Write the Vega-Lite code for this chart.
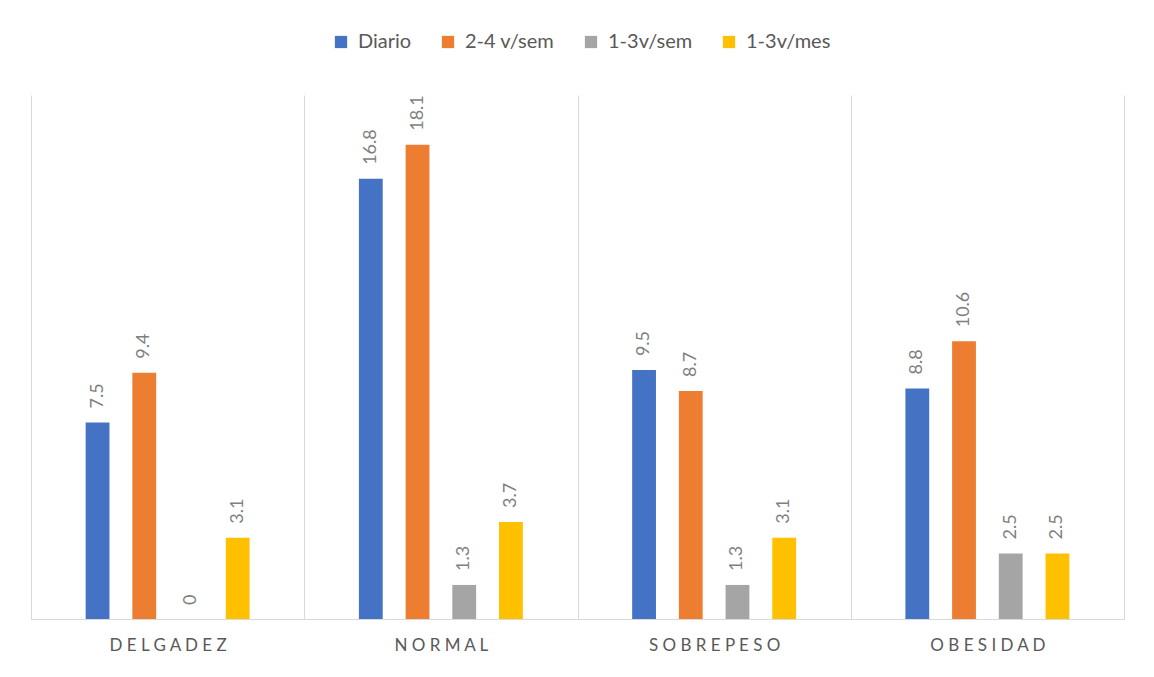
{
  "$schema": "https://vega.github.io/schema/vega-lite/v6.json",
  "width": 1093,
  "height": 524,
  "autosize": "none",
  "padding": {"left": 31, "top": 95, "right": 30, "bottom": 58},
  "background": "white",
  "config": {"view": {"stroke": null}},
  "data": {
    "values": [
      {"cat": "DELGADEZ", "serie": "Diario", "v": 7.5},
      {"cat": "DELGADEZ", "serie": "2-4 v/sem", "v": 9.4},
      {"cat": "DELGADEZ", "serie": "1-3v/sem", "v": 0},
      {"cat": "DELGADEZ", "serie": "1-3v/mes", "v": 3.1},
      {"cat": "NORMAL", "serie": "Diario", "v": 16.8},
      {"cat": "NORMAL", "serie": "2-4 v/sem", "v": 18.1},
      {"cat": "NORMAL", "serie": "1-3v/sem", "v": 1.3},
      {"cat": "NORMAL", "serie": "1-3v/mes", "v": 3.7},
      {"cat": "SOBREPESO", "serie": "Diario", "v": 9.5},
      {"cat": "SOBREPESO", "serie": "2-4 v/sem", "v": 8.7},
      {"cat": "SOBREPESO", "serie": "1-3v/sem", "v": 1.3},
      {"cat": "SOBREPESO", "serie": "1-3v/mes", "v": 3.1},
      {"cat": "OBESIDAD", "serie": "Diario", "v": 8.8},
      {"cat": "OBESIDAD", "serie": "2-4 v/sem", "v": 10.6},
      {"cat": "OBESIDAD", "serie": "1-3v/sem", "v": 2.5},
      {"cat": "OBESIDAD", "serie": "1-3v/mes", "v": 2.5}
    ]
  },
  "encoding": {
    "x": {
      "field": "cat",
      "type": "nominal",
      "sort": ["DELGADEZ", "NORMAL", "SOBREPESO", "OBESIDAD"],
      "scale": {"paddingInner": 0, "paddingOuter": 0},
      "axis": {
        "title": null,
        "labelAngle": 0,
        "domainColor": "#d9d9d9",
        "domainWidth": 1,
        "ticks": false,
        "grid": true,
        "gridColor": "#d9d9d9",
        "gridWidth": 1,
        "tickBand": "extent",
        "labelPadding": 18,
        "labelFont": "Lato",
        "labelFontSize": 17,
        "labelColor": "#595959",
        "labelExpr": "join(split(datum.label, ''), ' ')"
      }
    },
    "xOffset": {
      "field": "serie",
      "type": "nominal",
      "scale": {
        "domain": ["_l", "Diario", "2-4 v/sem", "1-3v/sem", "1-3v/mes", "_r"],
        "paddingInner": 0.49,
        "paddingOuter": 0.17
      }
    },
    "y": {
      "field": "v",
      "type": "quantitative",
      "scale": {"domain": [0, 20]},
      "axis": null
    }
  },
  "layer": [
    {
      "mark": {"type": "bar"},
      "encoding": {
        "color": {
          "field": "serie",
          "type": "nominal",
          "scale": {
            "domain": ["Diario", "2-4 v/sem", "1-3v/sem", "1-3v/mes"],
            "range": ["#4472c4", "#ed7d31", "#a5a5a5", "#ffc000"]
          },
          "legend": {
            "title": null,
            "orient": "none",
            "legendX": 300,
            "legendY": -63,
            "direction": "horizontal",
            "symbolType": "square",
            "symbolSize": 150,
            "symbolStrokeWidth": 0,
            "labelFont": "Lato",
            "labelFontSize": 20,
            "labelColor": "#595959",
            "labelOffset": 7,
            "columnPadding": 26
          }
        }
      }
    },
    {
      "mark": {
        "type": "text",
        "angle": 270,
        "align": "left",
        "baseline": "middle",
        "dx": 14,
        "font": "Lato",
        "fontSize": 18,
        "color": "#7f7f7f"
      },
      "encoding": {
        "text": {"field": "v", "type": "quantitative"}
      }
    }
  ]
}
